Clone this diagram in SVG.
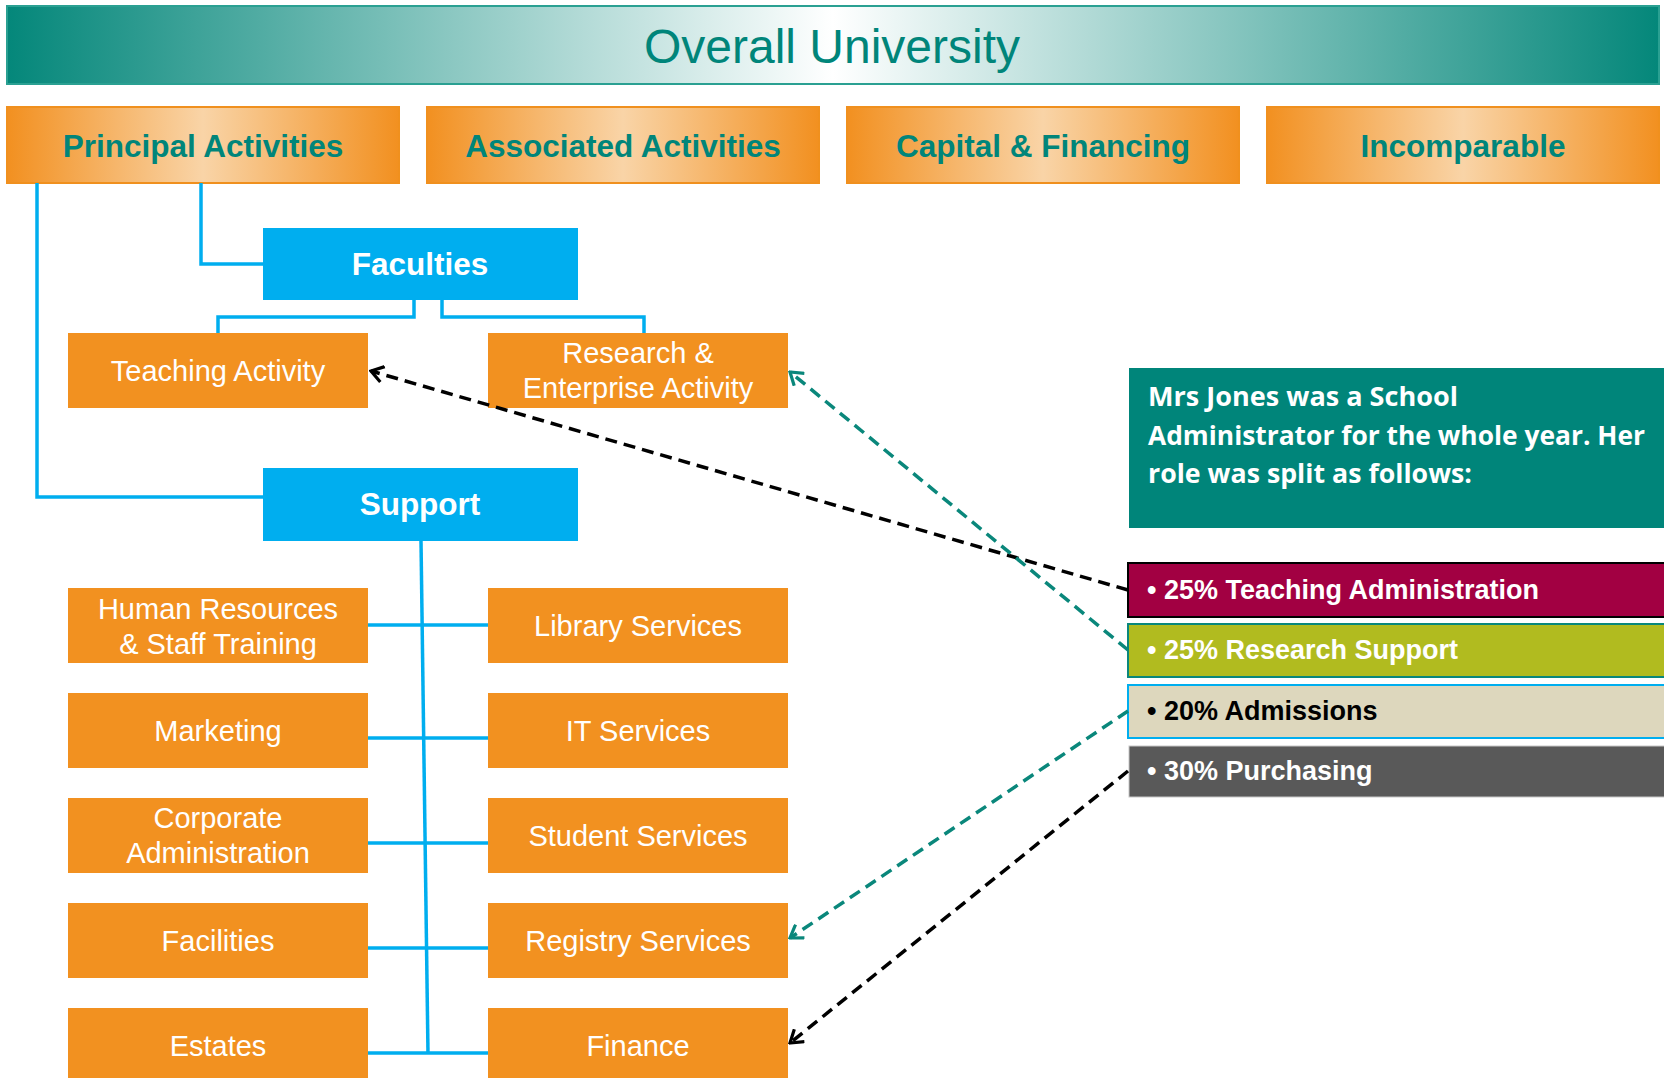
<svg xmlns="http://www.w3.org/2000/svg" width="1664" height="1078" viewBox="0 0 1664 1078">
  <defs>
    <linearGradient id="bannerFill" x1="0" y1="0" x2="1" y2="0">
      <stop offset="0" stop-color="#04877a"/>
      <stop offset="0.5" stop-color="#ffffff"/>
      <stop offset="1" stop-color="#04877a"/>
    </linearGradient>
    <linearGradient id="tabFill" x1="0" y1="0" x2="1" y2="0">
      <stop offset="0" stop-color="#f29020"/>
      <stop offset="0.5" stop-color="#f9d4a7"/>
      <stop offset="1" stop-color="#f29020"/>
    </linearGradient>
    <marker id="arrowBlack" viewBox="0 0 18 18" refX="16" refY="9" markerWidth="18" markerHeight="18" markerUnits="userSpaceOnUse" orient="auto">
      <path d="M4,1 L16,9 L4,17" fill="none" stroke="#000000" stroke-width="3.2"/>
    </marker>
    <marker id="arrowTeal" viewBox="0 0 18 18" refX="16" refY="9" markerWidth="18" markerHeight="18" markerUnits="userSpaceOnUse" orient="auto">
      <path d="M4,1 L16,9 L4,17" fill="none" stroke="#0a877b" stroke-width="3.2"/>
    </marker>
  </defs>
  <style>
    .tab { fill: url(#tabFill); stroke: #f0901e; stroke-width: 2; }
    .tab-text { font-family: "Liberation Sans", Arial, sans-serif; font-weight: bold; font-size: 31.5px; fill: #00857a; text-anchor: middle; }
    .blue { fill: #00aeef; }
    .blue-text { font-family: "Liberation Sans", Arial, sans-serif; font-weight: bold; font-size: 31.5px; fill: #ffffff; text-anchor: middle; }
    .unit { fill: #f29120; }
    .unit-text { font-family: "Liberation Sans", Arial, sans-serif; font-size: 29px; fill: #ffffff; text-anchor: middle; }
    .bar-text { font-family: "Liberation Sans", Arial, sans-serif; font-weight: bold; font-size: 27px; fill: #ffffff; }
    .note-text { font-family: "Open Sans", Lato, sans-serif; font-weight: bold; font-size: 27px; fill: #ffffff; }
    .tree { fill: none; stroke: #00aeef; stroke-width: 3.5; }
    .dash-black { fill: none; stroke: #000000; stroke-width: 3.5; stroke-dasharray: 12 7; marker-end: url(#arrowBlack); }
    .dash-teal { fill: none; stroke: #0a877b; stroke-width: 3.5; stroke-dasharray: 12 7; marker-end: url(#arrowTeal); }
  </style>

  <rect width="1664" height="1078" fill="#ffffff"/>

  <!-- Banner -->
  <g id="overall-university">
    <rect x="7" y="6" width="1652" height="78" fill="url(#bannerFill)" stroke="#2aa092" stroke-width="2"/>
    <text x="832" y="63" font-family="'Liberation Sans', Arial, sans-serif" font-size="48" fill="#00857a" text-anchor="middle">Overall University</text>
  </g>

  <!-- Top-level categories -->
  <g id="principal-activities">
    <rect class="tab" x="7" y="107" width="392" height="76"/>
    <text class="tab-text" x="203" y="157">Principal Activities</text>
  </g>
  <g id="associated-activities">
    <rect class="tab" x="427" y="107" width="392" height="76"/>
    <text class="tab-text" x="623" y="157">Associated Activities</text>
  </g>
  <g id="capital-financing">
    <rect class="tab" x="847" y="107" width="392" height="76"/>
    <text class="tab-text" x="1043" y="157">Capital &amp; Financing</text>
  </g>
  <g id="incomparable">
    <rect class="tab" x="1267" y="107" width="392" height="76"/>
    <text class="tab-text" x="1463" y="157">Incomparable</text>
  </g>

  <!-- Faculties branch -->
  <g id="faculties">
    <rect class="blue" x="263" y="228" width="315" height="72"/>
    <text class="blue-text" x="420" y="275">Faculties</text>
  </g>
  <g id="teaching-activity">
    <rect class="unit" x="68" y="333" width="300" height="75"/>
    <text class="unit-text" x="218" y="381">Teaching Activity</text>
  </g>
  <g id="research-enterprise">
    <rect class="unit" x="488" y="333" width="300" height="75"/>
    <text class="unit-text" x="638" y="363">Research &amp;</text>
    <text class="unit-text" x="638" y="398">Enterprise Activity</text>
  </g>

  <!-- Support branch -->
  <g id="support">
    <rect class="blue" x="263" y="468" width="315" height="73"/>
    <text class="blue-text" x="420" y="515">Support</text>
  </g>
  <g id="human-resources">
    <rect class="unit" x="68" y="588" width="300" height="75"/>
    <text class="unit-text" x="218" y="619">Human Resources</text>
    <text class="unit-text" x="218" y="654">&amp; Staff Training</text>
  </g>
  <g id="library-services">
    <rect class="unit" x="488" y="588" width="300" height="75"/>
    <text class="unit-text" x="638" y="636">Library Services</text>
  </g>
  <g id="marketing">
    <rect class="unit" x="68" y="693" width="300" height="75"/>
    <text class="unit-text" x="218" y="741">Marketing</text>
  </g>
  <g id="it-services">
    <rect class="unit" x="488" y="693" width="300" height="75"/>
    <text class="unit-text" x="638" y="741">IT Services</text>
  </g>
  <g id="corporate-administration">
    <rect class="unit" x="68" y="798" width="300" height="75"/>
    <text class="unit-text" x="218" y="828">Corporate</text>
    <text class="unit-text" x="218" y="863">Administration</text>
  </g>
  <g id="student-services">
    <rect class="unit" x="488" y="798" width="300" height="75"/>
    <text class="unit-text" x="638" y="846">Student Services</text>
  </g>
  <g id="facilities">
    <rect class="unit" x="68" y="903" width="300" height="75"/>
    <text class="unit-text" x="218" y="951">Facilities</text>
  </g>
  <g id="registry-services">
    <rect class="unit" x="488" y="903" width="300" height="75"/>
    <text class="unit-text" x="638" y="951">Registry Services</text>
  </g>
  <g id="estates">
    <rect class="unit" x="68" y="1008" width="300" height="75"/>
    <text class="unit-text" x="218" y="1056">Estates</text>
  </g>
  <g id="finance">
    <rect class="unit" x="488" y="1008" width="300" height="75"/>
    <text class="unit-text" x="638" y="1056">Finance</text>
  </g>

  <!-- Role description -->
  <g id="role-note">
    <rect x="1129" y="368" width="535" height="160" fill="#00857a"/>
    <text class="note-text" x="1148" y="406" textLength="310" lengthAdjust="spacingAndGlyphs">Mrs Jones was a School</text>
    <text class="note-text" x="1148" y="445" textLength="497" lengthAdjust="spacingAndGlyphs">Administrator for the whole year. Her</text>
    <text class="note-text" x="1148" y="483" textLength="324" lengthAdjust="spacingAndGlyphs">role was split as follows:</text>
  </g>
  <g id="split-teaching-admin">
    <rect x="1128" y="563" width="540" height="54" fill="#a20042" stroke="#000000" stroke-width="2"/>
    <text class="bar-text" x="1147" y="599">• 25% Teaching Administration</text>
  </g>
  <g id="split-research-support">
    <rect x="1128" y="624" width="540" height="53" fill="#b1bb1f" stroke="#0a877b" stroke-width="2"/>
    <text class="bar-text" x="1147" y="659">• 25% Research Support</text>
  </g>
  <g id="split-admissions">
    <rect x="1128" y="685" width="540" height="53" fill="#ddd7bd" stroke="#00aeef" stroke-width="2"/>
    <text class="bar-text" x="1147" y="720" style="fill:#000000">• 20% Admissions</text>
  </g>
  <g id="split-purchasing">
    <rect x="1129" y="746" width="540" height="51" fill="#595959" stroke="#c8c8c8" stroke-width="1"/>
    <text class="bar-text" x="1147" y="780">• 30% Purchasing</text>
  </g>

  <!-- Connectors -->
  <g id="connectors">
    <path class="tree" d="M37,183 V497 H263"/>
    <path class="tree" d="M201,183 V264 H263"/>
    <path class="tree" d="M414,300 V317 H218 V333"/>
    <path class="tree" d="M442,300 V317 H644 V333"/>
    <path class="tree" d="M421,541 L428,1054"/>
    <path class="tree" d="M368,625 H488"/>
    <path class="tree" d="M368,738 H488"/>
    <path class="tree" d="M368,843 H488"/>
    <path class="tree" d="M368,948 H488"/>
    <path class="tree" d="M368,1053 H488"/>
    <path class="dash-black" d="M1128,590 L371,371"/>
    <path class="dash-teal" d="M1128,650 L790,372"/>
    <path class="dash-teal" d="M1128,711 L790,938"/>
    <path class="dash-black" d="M1128,771 L790,1043"/>
  </g>
</svg>
